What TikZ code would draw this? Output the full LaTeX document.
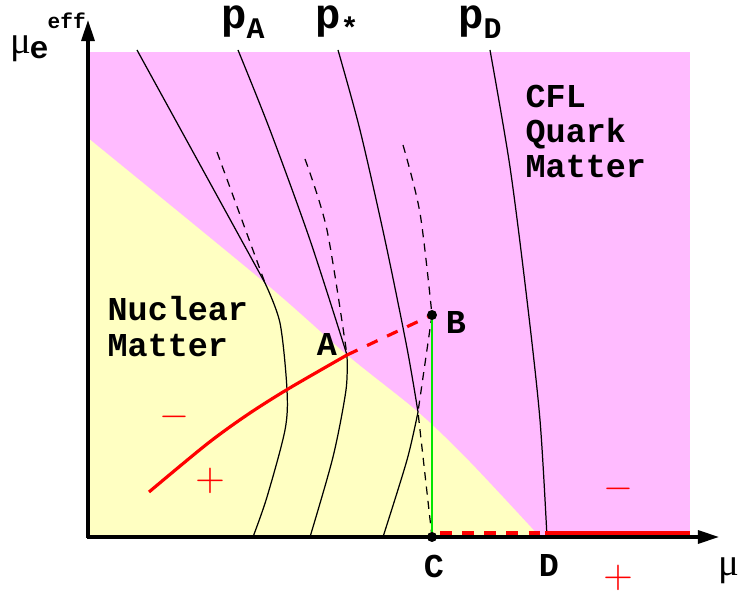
\documentclass[tikz,border=0pt]{standalone}
\usepackage{fontspec}
\setmonofont{Liberation Mono}
\newfontfamily\symfont{Liberation Serif}
\usepackage{tikz}
\usetikzlibrary{arrows.meta,calc}
\definecolor{cflcolor}{RGB}{255,187,255}
\definecolor{nuccolor}{RGB}{255,255,194}
\definecolor{mixcolor}{RGB}{0,230,0}
\newcommand{\sublab}[2]{#1\raisebox{-0.45ex}{\fontsize{8.5}{8.5}\selectfont #2}}

\begin{document}
\begin{tikzpicture}[x=0.01cm, y=-0.01cm,
  axis/.style={line width=0.9pt, -{Triangle[length=2.1mm, width=1.3mm]}},
  curve/.style={line width=0.35pt},
  dcurve/.style={curve, dash pattern=on 2.3pt off 1.8pt},
  redline/.style={red, line width=0.9pt},
  reddash/.style={redline, dash pattern=on 3.3pt off 3pt},
  lbl/.style={font=\ttfamily\bfseries\fontsize{9.5}{10}\selectfont, align=left, inner sep=0pt},
  plbl/.style={font=\ttfamily\bfseries\fontsize{12}{12}\selectfont, inner sep=0pt},
  mulbl/.style={font=\symfont\fontsize{11}{11}\selectfont, inner sep=0pt},
  sgn/.style={text=red, font=\fontsize{10.6}{10.6}\selectfont, inner sep=0pt},
  dot/.style={circle, fill, inner sep=0pt, minimum size=1mm},
]
\useasboundingbox (0,0) rectangle (738,594);
% phases
\fill[cflcolor] (88,52) rectangle (690,537);
\fill[nuccolor] plot[smooth] coordinates {(88,138) (265,283) (347,355) (418,412) (470,462) (540,537)} -- (88,537) -- cycle;

% points
\coordinate (A) at (347,355);
\coordinate (B) at (432,315);
\coordinate (C) at (432,537);
\coordinate (Cr) at (440,533);
\coordinate (D) at (545,533);
\coordinate (E) at (690,533);

% pressure contours
\draw[curve] (137,50) -- (265,283);
\draw[curve] plot[smooth] coordinates {(265,283) (280,323) (287,390) (285,430) (267,497) (253,537)};
\draw[dcurve] (217,152) -- (265,283);
\draw[curve] plot[smooth] coordinates {(238,50) (270,130) (310,240) (A)};
\draw[curve] plot[smooth] coordinates {(A) (346,390) (333,457) (310,537)};
\draw[dcurve] plot[smooth] coordinates {(305,159) (327,230) (A)};
\draw[curve] plot[smooth] coordinates {(338,50) (360,130) (385,240) (407,348) (418,412)};
\draw[curve] plot[smooth] coordinates {(418,412) (407,460) (383,537)};
\draw[dcurve] plot[smooth] coordinates {(403,145) (420,213) (B)};
\draw[dcurve] (B) -- (418,412) -- (C);
\draw[curve] plot[smooth] coordinates {(490,50) (510,167) (527,300) (540,420) (547,537)};

% transition lines
\draw[redline] plot[smooth] coordinates {(149,492) (207,444) (247,415) (288,389) (A)};
\draw[reddash] (A) -- (B);
\draw[mixcolor, line width=0.5pt] (B) -- (C);
\draw[reddash] (Cr) -- (D);
\draw[redline] (D) -- (E);

% axes
\draw[axis] (88,538) -- (88,20);
\draw[axis] (87,537) -- (719,537);
\node[dot] (Bdot) at (B) {};
\node[dot] (Cdot) at (C) {};

% labels
\node[mulbl, anchor=base west] (ylab) at (10,54) {μ};
\node[lbl, font=\ttfamily\bfseries\fontsize{9}{9}\selectfont, anchor=base west] (ysub) at (29,58) {e};
\node[lbl, font=\ttfamily\bfseries\fontsize{6}{6}\selectfont, anchor=base west] (ysup) at (47,28) {eff};
\node[mulbl, anchor=base west] (xlab) at (718,576) {μ};
\node[plbl] (pA) at (243,22) {\sublab{p}{A}};
\node[plbl] (ps) at (337,22) {\sublab{p}{*}};
\node[plbl] (pD) at (480,22) {\sublab{p}{D}};
\node[lbl, anchor=north west] (cfl) at (525,84) {CFL\\Quark\\Matter};
\node[lbl, anchor=north west] (nuc) at (107,296) {Nuclear\\Matter};
\node[lbl] (Alab) at (327,345) {A};
\node[lbl] (Blab) at (456,323) {B};
\node[lbl] (Clab) at (434,566) {C};
\node[lbl] (Dlab) at (549,566) {D};
\node[sgn] (nmin) at (174,417) {$-$};
\node[sgn] (nplus) at (210,481) {$+$};
\node[sgn] (qmin) at (618,489) {$-$};
\node[sgn] (qplus) at (618,578) {$+$};
\end{tikzpicture}
\end{document}
